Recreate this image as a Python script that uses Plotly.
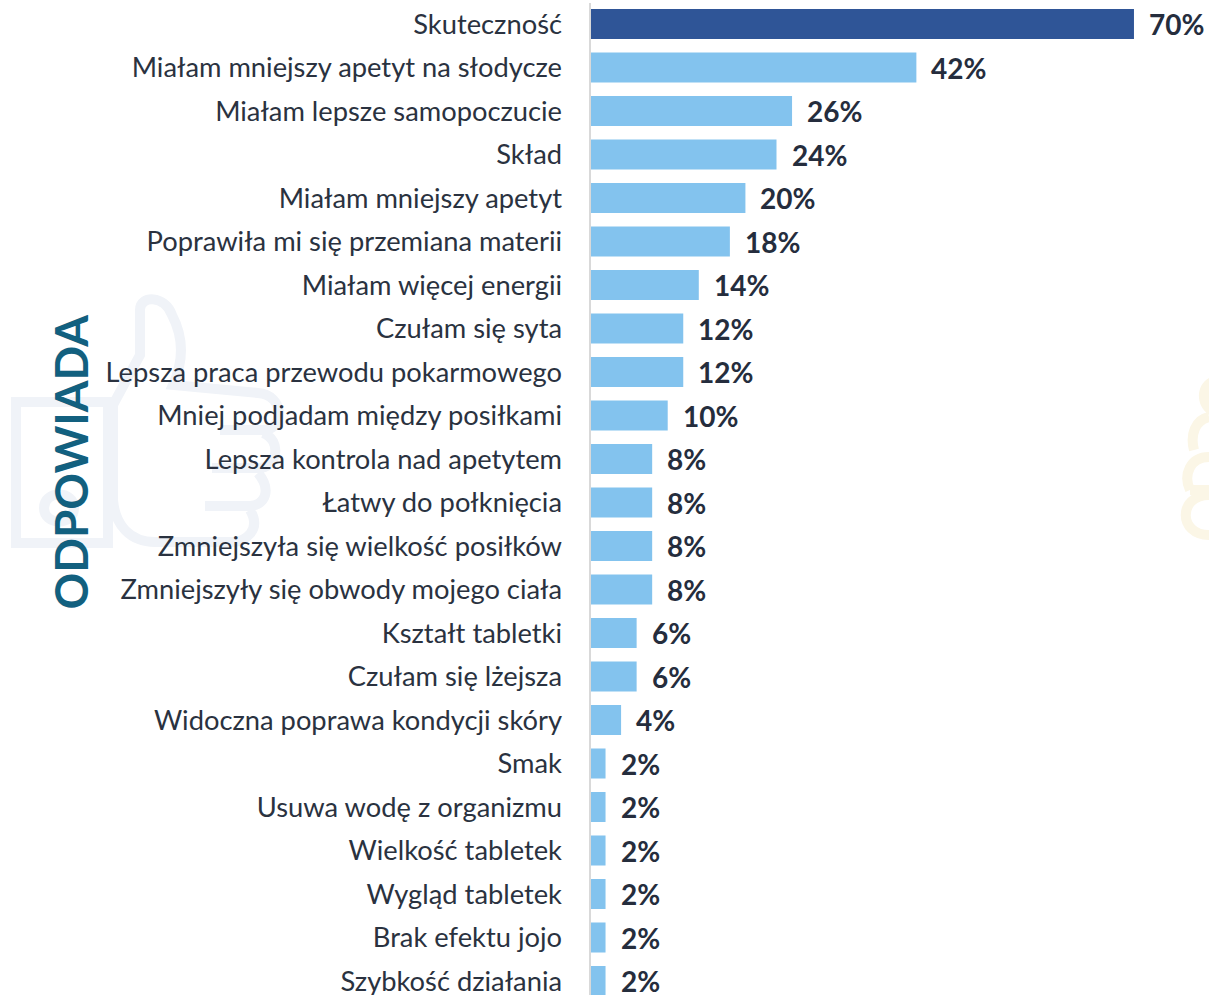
import plotly.graph_objects as go

categories = ["Skuteczność","Miałam mniejszy apetyt na słodycze","Miałam lepsze samopoczucie","Skład","Miałam mniejszy apetyt","Poprawiła mi się przemiana materii","Miałam więcej energii","Czułam się syta","Lepsza praca przewodu pokarmowego","Mniej podjadam między posiłkami","Lepsza kontrola nad apetytem","Łatwy do połknięcia","Zmniejszyła się wielkość posiłków","Zmniejszyły się obwody mojego ciała","Kształt tabletki","Czułam się lżejsza","Widoczna poprawa kondycji skóry","Smak","Usuwa wodę z organizmu","Wielkość tabletek","Wygląd tabletek","Brak efektu jojo","Szybkość działania"]
values = [70,42,26,24,20,18,14,12,12,10,8,8,8,8,6,6,4,2,2,2,2,2,2]
colors = ["#2F5597"] + ["#83C3EE"]*22
FONT = "Lato, Open Sans, sans-serif"
W, H = 1209, 995
ML, MT = 590, 3

def px(x): return (x-ML)/(W-ML)
def py(y): return 1-(y-MT)/(H-MT)
def path(pts):
    out=[]
    for cmd,*c in pts:
        s=[f"{px(c[i]):.5f},{py(c[i+1]):.5f}" for i in range(0,len(c),2)]
        out.append(cmd+" ".join(s))
    return " ".join(out)

thumb = path([("M",113,405),("L",140,355),("L",140,310),("C",140,295,165,295,172,315),("C",185,340,182,365,173,385),
  ("L",258,393),("C",285,395,285,430,263,430),("L",220,430),
  ("M",263,433),("C",282,440,278,468,258,468),("L",212,468),
  ("M",258,473),("C",272,490,265,505,250,506),("L",205,506),
  ("M",250,510),("C",262,530,245,542,232,542),("L",155,542),("C",130,542,115,525,113,500),("L",113,405)])
square = path([("M",16,402),("L",108,402),("L",108,543),("L",16,543),("Z",)])
ring = path([("M",44,508),("C",44,490,74,490,74,508),("C",74,526,44,526,44,508),("Z",)])
stack = path([("M",1209,535),("C",1178,535,1178,495,1209,495),("M",1190,490),("C",1183,475,1190,457,1209,457),
              ("M",1194,450),("C",1190,435,1195,420,1209,417)])
blob = path([("M",1209,378),("C",1196,385,1195,405,1209,415),("Z",)])
band = path([("M",1190,490),("L",1209,490)])
LINE_T = dict(xref="paper", yref="paper", layer="below", type="path", fillcolor="rgba(0,0,0,0)")
shapes = [dict(path=p, line=dict(color="#F0F3F8", width=10), **LINE_T) for p in (thumb, square, ring)]
shapes += [dict(path=p, line=dict(color="#FBF6E6", width=10), **LINE_T) for p in (stack, band)]
shapes.append(dict(path=blob, xref="paper", yref="paper", layer="below", type="path", fillcolor="#FBF6E6", line=dict(width=0)))
shapes.append(dict(type="line", xref="paper", yref="paper", x0=0, x1=0, y0=0, y1=1, layer="above",
                   line=dict(color="#D9D9D9", width=2)))

fig = go.Figure(go.Bar(
    y=categories, x=values, orientation="h", marker=dict(color=colors, line=dict(width=0)),
    width=0.69, cliponaxis=False,
))
ann = [dict(x=v, y=c, xref="x", yref="y", text=f"<b>{v}%</b>", xanchor="left", yanchor="middle", xshift=13, yshift=0,
            showarrow=False, font=dict(family=FONT, size=28, color="#252D3D")) for c, v in zip(categories, values)]
ann.append(dict(text="<b>ODPOWIADA</b>", x=px(70), y=py(462.5), xref="paper", yref="paper", textangle=-90,
                xanchor="center", yanchor="middle", showarrow=False,
                font=dict(family=FONT, size=45.6, color="#12607F")))
fig.update_layout(
    width=W, height=H+2, paper_bgcolor="rgba(0,0,0,0)", plot_bgcolor="rgba(0,0,0,0)", showlegend=False,
    margin=dict(l=ML, r=0, t=MT, b=0, pad=0), shapes=shapes, annotations=ann,
    xaxis=dict(visible=False, range=[0, (W-ML)/7.771], fixedrange=True),
    yaxis=dict(autorange=False, range=[(H-24)/43.5, -(24-MT)/43.5], tickfont=dict(family=FONT, size=27.3, color="#2A3240"),
               ticks="", ticklabelstandoff=27, showline=False, showgrid=False, zeroline=False, fixedrange=True),
)
fig.write_html("out.html", config={"displayModeBar": False},
               post_script="document.body.style.margin='0';document.body.style.overflow='hidden';")
